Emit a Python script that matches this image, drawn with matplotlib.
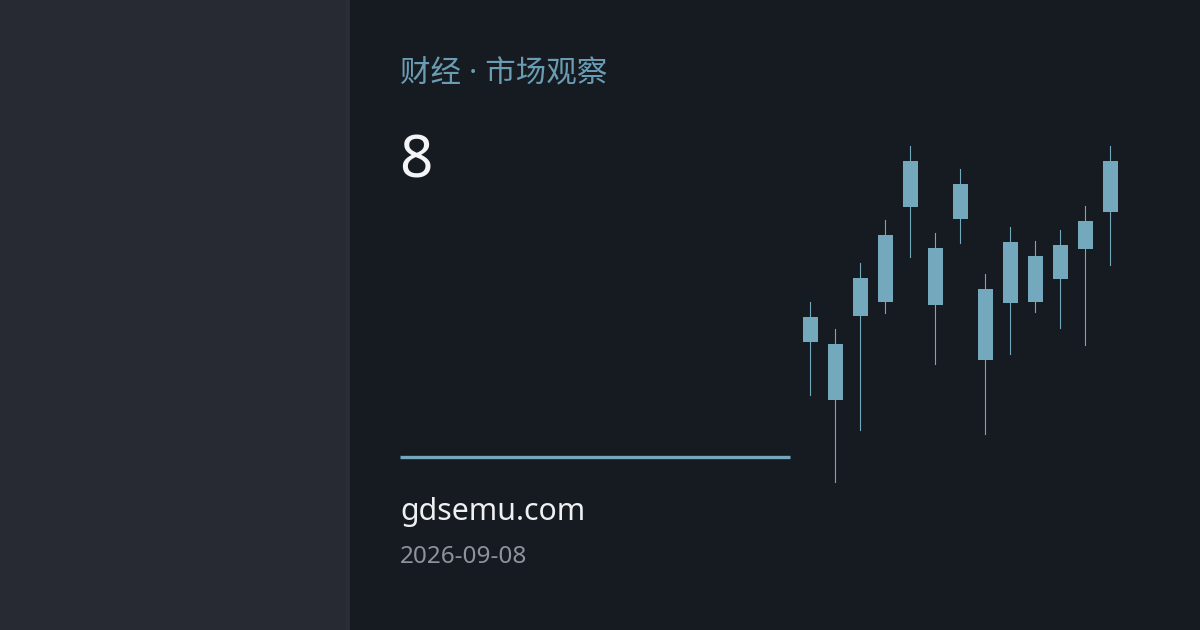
import matplotlib
matplotlib.use("Agg")
import matplotlib.pyplot as plt
from matplotlib.patches import Rectangle

W, H = 1200, 630

# candles (price units, higher = up)
OPEN = [158, 100, 184, 198, 293, 195, 281, 140, 197, 198, 221, 251, 288]
CLOSE = [183, 156, 222, 265, 339, 252, 316, 211, 258, 244, 255, 279, 339]
HIGH = [198, 171, 237, 280, 354, 267, 331, 226, 273, 259, 270, 294, 354]
LOW = [105, 18, 70, 187, 243, 136, 257, 66, 146, 188, 172, 155, 235]

TITLE = "财经 · 市场观察"
BIG = "8"
SITE = "gdsemu.com"
DATE = "2026-09-08"

BG = "#161a21"
PANEL = "#272a32"
ACCENT = "#74a8bd"


def px(x, y):
    return x / W, 1 - y / H


fig = plt.figure(figsize=(W / 100, H / 100), dpi=100)
fig.patch.set_facecolor(BG)

bg = fig.add_axes([0, 0, 1, 1])
bg.set_xlim(0, W)
bg.set_ylim(H, 0)
bg.axis("off")
bg.add_patch(Rectangle((0, 0), 350, H, color=PANEL, lw=0))
bg.add_patch(Rectangle((345, 0), 5, H, color="#2a2d35", lw=0))
bg.plot([400, 790], [456.5, 456.5], color=ACCENT, lw=2.4, solid_capstyle="butt")

fig.text(*px(400, 74), TITLE, fontsize=22, color="#6a9db3", va="center",
         family=["Noto Sans", "Noto Sans CJK SC"])
fig.text(*px(399, 178), BIG, fontsize=42, color="#f2f4f6", va="baseline", family="Noto Sans")
fig.text(*px(400, 520), SITE, fontsize=21.8, color="#eef0f2", va="baseline", family="Noto Sans")
fig.text(*px(400, 563), DATE, fontsize=17.5, color="#8d939c", va="baseline", family="Noto Sans")

# candlestick axes: x 785..1135 px, y 100..500 px
ax = fig.add_axes([785 / W, (H - 500) / H, 350 / W, 400 / H])
ax.set_xlim(-1, 13)
ax.set_ylim(0, 400)
ax.axis("off")
for i in range(len(OPEN)):
    lo, hi = min(OPEN[i], CLOSE[i]), max(OPEN[i], CLOSE[i])
    ax.plot([i, i], [LOW[i], HIGH[i]], color=ACCENT, lw=0.8, zorder=1)
    ax.add_patch(Rectangle((i - 0.3, lo), 0.6, hi - lo, color=ACCENT, lw=0, zorder=2))

fig.savefig("out.png", dpi=100, facecolor=BG)
